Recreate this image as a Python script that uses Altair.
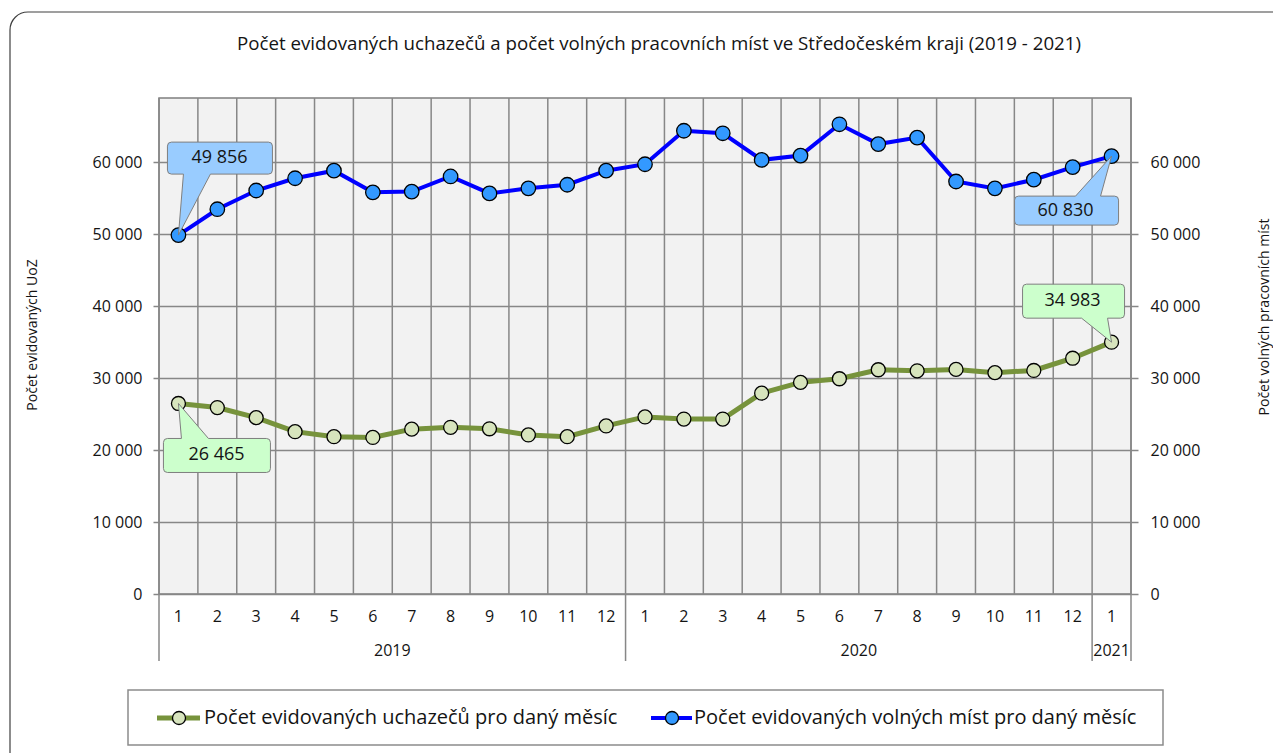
import altair as alt
import pandas as pd

# ---------------- data ----------------
months = [1, 2, 3, 4, 5, 6, 7, 8, 9, 10, 11, 12,
          1, 2, 3, 4, 5, 6, 7, 8, 9, 10, 11, 12, 1]
uoz = [26465, 25900, 24500, 22550, 21850, 21750, 22900, 23150, 22950, 22100, 21850, 23350,
       24600, 24300, 24300, 27900, 29400, 29900, 31150, 31000, 31200, 30750, 31050, 32750, 34983]
vm = [49856, 53450, 56050, 57750, 58800, 55800, 55900, 58000, 55650, 56350, 56850, 58800,
      59700, 64350, 64000, 60300, 60900, 65250, 62500, 63400, 57300, 56350, 57550, 59300, 60830]
year_names = ["2019", "2020", "2021"]
year_centers = [6, 18, 24.5]
year_bounds = [0, 12, 24, 25]
y_ticks = [0, 10000, 20000, 30000, 40000, 50000, 60000]

title_text = "Počet evidovaných uchazečů a počet volných pracovních míst ve Středočeském kraji (2019 - 2021)"
left_title = "Počet evidovaných UoZ"
right_title = "Počet volných pracovních míst"
legend_green = "Počet evidovaných uchazečů pro daný měsíc"
legend_blue = "Počet evidovaných volných míst pro daný měsíc"

# ---------------- styles ----------------
FONT = "Open Sans"
GRID = "#878787"
TXT = "#141414"
GREEN_LINE = "#77933C"
GREEN_FILL = "#D7E4BD"
BLUE_LINE = "#0000FF"
BLUE_FILL = "#3399FF"
CALL_BLUE = "#99CCFF"
CALL_GREEN = "#CCFFCC"
W, H = 972, 496
YMAX = 68900

df = pd.DataFrame({
    "pos": [i + 0.5 for i in range(len(months))],
    "m": [str(m) for m in months],
    "uoz": uoz,
    "vm": vm,
})
n = len(months)

xs = alt.Scale(domain=[0, n], nice=False, zero=False)
ys = alt.Scale(domain=[0, YMAX], nice=False, zero=True)
label_expr = "replace(format(datum.value, ','), ',', ' ')"

x_axis = alt.Axis(values=list(range(n + 1)), labels=False, title=None, grid=False,
                  tickSize=33, tickColor=GRID, tickWidth=1.5,
                  domainColor=GRID, domainWidth=1.5)
X = alt.X("pos:Q", scale=xs, axis=x_axis)
Xn = alt.X("pos:Q", scale=xs, axis=None)

left_axis = alt.Axis(orient="left", values=y_ticks, grid=True, gridColor=GRID, gridWidth=1.5,
                     tickSize=6, tickColor=GRID, tickWidth=1.5, domain=False, title=None,
                     labelExpr=label_expr, labelFont=FONT, labelFontSize=16, labelColor=TXT,
                     labelPadding=11)
right_axis = alt.Axis(orient="right", values=y_ticks, grid=False,
                      tickSize=7, tickColor=GRID, tickWidth=1.5, domain=False, title=None,
                      labelExpr=label_expr, labelFont=FONT, labelFontSize=16, labelColor=TXT,
                      labelPadding=12)

base = alt.Chart(df)

vgrid = alt.Chart(pd.DataFrame({"g": list(range(n + 1))})).mark_rule(
    color=GRID, strokeWidth=1.5).encode(
    x=alt.X("g:Q", scale=xs, axis=None), y=alt.value(0), y2=alt.value(H))

green_line = base.mark_line(color=GREEN_LINE, strokeWidth=5).encode(
    x=X, y=alt.Y("uoz:Q", scale=ys, axis=left_axis))
green_pts = base.mark_circle(size=195, color=GREEN_FILL, opacity=1, stroke="#000000",
                             strokeWidth=1.3).encode(x=Xn, y=alt.Y("uoz:Q", scale=ys, axis=None))
blue_line = base.mark_line(color=BLUE_LINE, strokeWidth=4).encode(
    x=Xn, y=alt.Y("vm:Q", scale=ys, axis=right_axis))
blue_pts = base.mark_circle(size=210, color=BLUE_FILL, opacity=1, stroke="#000000",
                            strokeWidth=1.3).encode(x=Xn, y=alt.Y("vm:Q", scale=ys, axis=None))

months_txt = base.mark_text(font=FONT, fontSize=16, color=TXT, baseline="middle").encode(
    x=Xn, y=alt.value(519), text="m:N")

years_df = pd.DataFrame({"pos": year_centers, "year": year_names})
years_txt = alt.Chart(years_df).mark_text(font=FONT, fontSize=16, color=TXT, baseline="middle").encode(
    x=Xn, y=alt.value(553), text="year:N")
bounds_df = pd.DataFrame({"pos": year_bounds})
bounds = alt.Chart(bounds_df).mark_rule(color=GRID, strokeWidth=1.5).encode(
    x=Xn, y=alt.value(H), y2=alt.value(H + 67))


# ---------------- callouts ----------------
def callout_path(x0, y0, x1, y1, b0, b1, top, r=4):
    if top:
        p = (f"M{x0 + r},{y0} L{b0},{y0} L0,0 L{b1},{y0} L{x1 - r},{y0} Q{x1},{y0} {x1},{y0 + r} "
             f"L{x1},{y1 - r} Q{x1},{y1} {x1 - r},{y1} L{x0 + r},{y1} Q{x0},{y1} {x0},{y1 - r} "
             f"L{x0},{y0 + r} Q{x0},{y0} {x0 + r},{y0} Z")
    else:
        p = (f"M{x0 + r},{y0} L{x1 - r},{y0} Q{x1},{y0} {x1},{y0 + r} L{x1},{y1 - r} "
             f"Q{x1},{y1} {x1 - r},{y1} L{b1},{y1} L0,0 L{b0},{y1} L{x0 + r},{y1} "
             f"Q{x0},{y1} {x0},{y1 - r} L{x0},{y0 + r} Q{x0},{y0} {x0 + r},{y0} Z")
    return p


def fmt(v):
    return f"{v:,}".replace(",", " ")


callouts = [
    # index, series, fill, box (x0,y0,x1,y1), pointer base (b0,b1), pointer on top?, text offset
    (0, "vm", CALL_BLUE, (-11, -93, 94, -61), (5, 32), False, (41, -77)),
    (n - 1, "vm", CALL_BLUE, (-97, 40, 7, 69), (-36, -11), True, (-46, 55)),
    (n - 1, "uoz", CALL_GREEN, (-89, -58, 13, -24), (-30, -4), False, (-39, -41)),
    (0, "uoz", CALL_GREEN, (-15, 35, 92, 69), (3, 30), True, (38, 52)),
]

call_layers = []
for idx, col, fill, box, base_pts, top, toff in callouts:
    val = (uoz if col == "uoz" else vm)[idx]
    cdf = pd.DataFrame({"pos": [idx + 0.5], "v": [val], "t": [fmt(val)]})
    path = callout_path(box[0], box[1], box[2], box[3], base_pts[0], base_pts[1], top)
    shp = alt.Chart(cdf).mark_point(shape=path, size=4, filled=True, fill=fill, opacity=1,
                                    stroke="#7f7f7f", strokeWidth=1).encode(
        x=Xn, y=alt.Y("v:Q", scale=ys, axis=None))
    txt = alt.Chart(cdf).mark_text(font=FONT, fontSize=18, color=TXT, dx=toff[0], dy=toff[1],
                                   baseline="middle").encode(
        x=Xn, y=alt.Y("v:Q", scale=ys, axis=None), text="t:N")
    call_layers += [shp, txt]

# ---------------- titles / frame / legend ----------------
one = pd.DataFrame({"a": [0]})
frame = alt.Chart(one).mark_rect(fill="transparent", stroke="#404040", strokeWidth=1.2,
                                 cornerRadius=18).encode(
    x=alt.value(-149), x2=alt.value(1140), y=alt.value(-86), y2=alt.value(700))

title = alt.Chart(pd.DataFrame({"t": [title_text]})).mark_text(
    font=FONT, fontSize=18.7, color=TXT, baseline="middle").encode(
    x=alt.value(500), y=alt.value(-54), text="t:N")
ltitle = alt.Chart(pd.DataFrame({"t": [left_title]})).mark_text(
    font=FONT, fontSize=14, color=TXT, angle=270, baseline="middle").encode(
    x=alt.value(-126), y=alt.value(237), text="t:N")
rtitle = alt.Chart(pd.DataFrame({"t": [right_title]})).mark_text(
    font=FONT, fontSize=14, color=TXT, angle=270, baseline="middle").encode(
    x=alt.value(1106), y=alt.value(219), text="t:N")

legend_box = alt.Chart(one).mark_rect(fill="#ffffff", stroke="#8c8c8c", strokeWidth=1.5).encode(
    x=alt.value(-31), x2=alt.value(1004), y=alt.value(592), y2=alt.value(647))
LY = 620
leg_layers = []
for (x0, x1, cx, tx, lc, fc, lw, label) in [
    (-2, 41, 20, 45, GREEN_LINE, GREEN_FILL, 5, legend_green),
    (492, 533, 513, 535, BLUE_LINE, BLUE_FILL, 4, legend_blue),
]:
    leg_layers.append(alt.Chart(one).mark_rule(color=lc, strokeWidth=lw).encode(
        x=alt.value(x0), x2=alt.value(x1), y=alt.value(LY)))
    leg_layers.append(alt.Chart(one).mark_circle(size=170, color=fc, opacity=1, stroke="#000000",
                                                 strokeWidth=1.3).encode(
        x=alt.value(cx), y=alt.value(LY)))
    leg_layers.append(alt.Chart(pd.DataFrame({"t": [label]})).mark_text(
        font=FONT, fontSize=20, color=TXT, align="left", baseline="middle").encode(
        x=alt.value(tx), y=alt.value(LY), text="t:N"))

chart = alt.layer(
    frame, vgrid, green_line, blue_line, green_pts, blue_pts, *call_layers,
    months_txt, years_txt, bounds, title, ltitle, rtitle, legend_box, *leg_layers
).resolve_scale(y="independent").properties(
    width=W, height=H,
    padding={"left": 151, "top": 90, "right": 142, "bottom": 159},
    autosize=alt.AutoSizeParams(type="none"),
).configure_view(fill="#F2F2F2", stroke="#7f7f7f", strokeWidth=1.5)

chart.save("out.html", embed_options={"renderer": "svg", "actions": False})
